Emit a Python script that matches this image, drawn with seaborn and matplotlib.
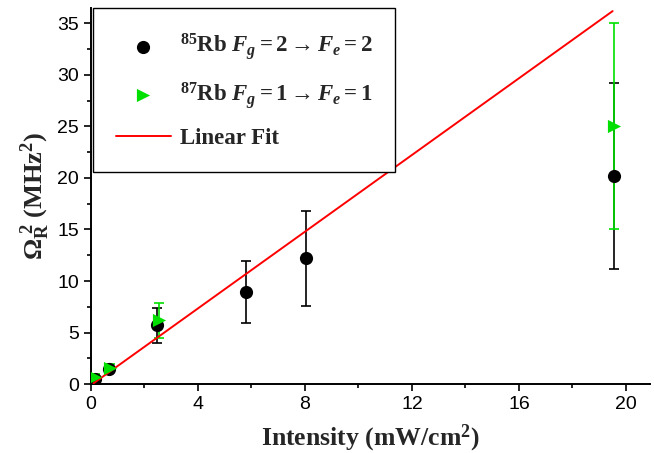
import numpy as np
import pandas as pd
import matplotlib
matplotlib.use("Agg")
import matplotlib.pyplot as plt
from matplotlib.ticker import MultipleLocator
import seaborn as sns

# 85Rb, Fg=2 -> Fe=2
rb85_intensity = [0.15, 0.68, 2.48, 5.78, 8.05, 19.55]
rb85_omega2 = [0.5, 1.5, 5.7, 8.9, 12.2, 20.2]
rb85_err = [0.3, 0.4, 1.7, 3.0, 4.6, 9.0]

# 87Rb, Fg=1 -> Fe=1
rb87_intensity = [0.17, 0.72, 2.56, 19.55]
rb87_omega2 = [0.7, 1.6, 6.2, 25.0]
rb87_err = [0.3, 0.4, 1.7, 10.0]

# linear fit parameters
fit_slope = 1.86
fit_intercept = -0.1
fit_range = [0.1, 19.5]

x_ticks = [0, 4, 8, 12, 16, 20]
y_ticks = [0, 5, 10, 15, 20, 25, 30, 35]

sns.set_theme(style="ticks")
plt.rcParams["font.family"] = ["Liberation Sans Narrow", "Liberation Sans", "DejaVu Sans"]
plt.rcParams["mathtext.fontset"] = "custom"
plt.rcParams["mathtext.rm"] = "Liberation Serif:bold"
plt.rcParams["mathtext.bf"] = "Liberation Serif:bold"
plt.rcParams["mathtext.it"] = "Liberation Serif:italic:bold"

df85 = pd.DataFrame({"I": rb85_intensity, "W": rb85_omega2, "e": rb85_err})
df87 = pd.DataFrame({"I": rb87_intensity, "W": rb87_omega2, "e": rb87_err})
fit_x = np.array(fit_range)
df_fit = pd.DataFrame({"I": fit_x, "W": fit_slope * fit_x + fit_intercept})

fig = plt.figure(figsize=(6.54, 4.53), dpi=100)
ax = fig.add_axes([0.139, 0.152, 0.855, 0.831])

ax.errorbar(df85["I"], df85["W"], yerr=df85["e"], fmt="none", ecolor="black",
            elinewidth=1.2, capsize=3.5, capthick=1.2, zorder=2)
ax.errorbar(df87["I"], df87["W"], yerr=df87["e"], fmt="none", ecolor="#00e000",
            elinewidth=1.2, capsize=3.5, capthick=1.2, zorder=2.5)

lab85 = r"$^{85}$Rb $F_g = 2 \rightarrow F_e = 2$"
lab87 = r"$^{87}$Rb $F_g = 1 \rightarrow F_e = 1$"

sns.scatterplot(data=df85, x="I", y="W", ax=ax, color="black", marker="o",
                s=90, edgecolor="black", linewidth=0, label=lab85, zorder=3)
sns.scatterplot(data=df87, x="I", y="W", ax=ax, color="#00e000", marker=">",
                s=90, edgecolor="#00e000", linewidth=0, label=lab87, zorder=4)
sns.lineplot(data=df_fit, x="I", y="W", ax=ax, color="red", linewidth=1.4,
             label="Linear Fit", zorder=3.5)

ax.set_xlim(0, 20.9)
ax.set_ylim(0, 36.5)
ax.set_xticks(x_ticks)
ax.set_yticks(y_ticks)
ax.xaxis.set_minor_locator(MultipleLocator(2))
ax.yaxis.set_minor_locator(MultipleLocator(2.5))
ax.tick_params(axis="both", which="major", direction="out", length=5, width=1.2,
               labelsize=14, color="black", labelcolor="black")
ax.tick_params(axis="both", which="minor", direction="out", length=3, width=1.2,
               color="black")
for s in ["left", "bottom"]:
    ax.spines[s].set_linewidth(1.4)
    ax.spines[s].set_color("black")
ax.spines["top"].set_visible(False)
ax.spines["right"].set_visible(False)

ax.set_xlabel(r"Intensity (mW/cm$^{2}$)", family="Liberation Serif",
              fontweight="bold", fontsize=18.5, labelpad=7)
ax.set_ylabel(r"$\Omega_{\mathrm{R}}^{\ 2}$ (MHz$^{2}$)", family="Liberation Serif",
              fontweight="bold", fontsize=19, labelpad=4)

leg = ax.legend(loc="upper left", bbox_to_anchor=(0.003, 0.998), frameon=True,
                fancybox=False, edgecolor="black", framealpha=1,
                prop={"family": "Liberation Serif", "weight": "bold", "size": 16.5},
                handlelength=2.4, handletextpad=0.4, labelspacing=0.75,
                borderpad=1.0, borderaxespad=0.0, markerscale=1.0)
leg.get_frame().set_linewidth(1.0)

fig.savefig("out.png", dpi=100)
